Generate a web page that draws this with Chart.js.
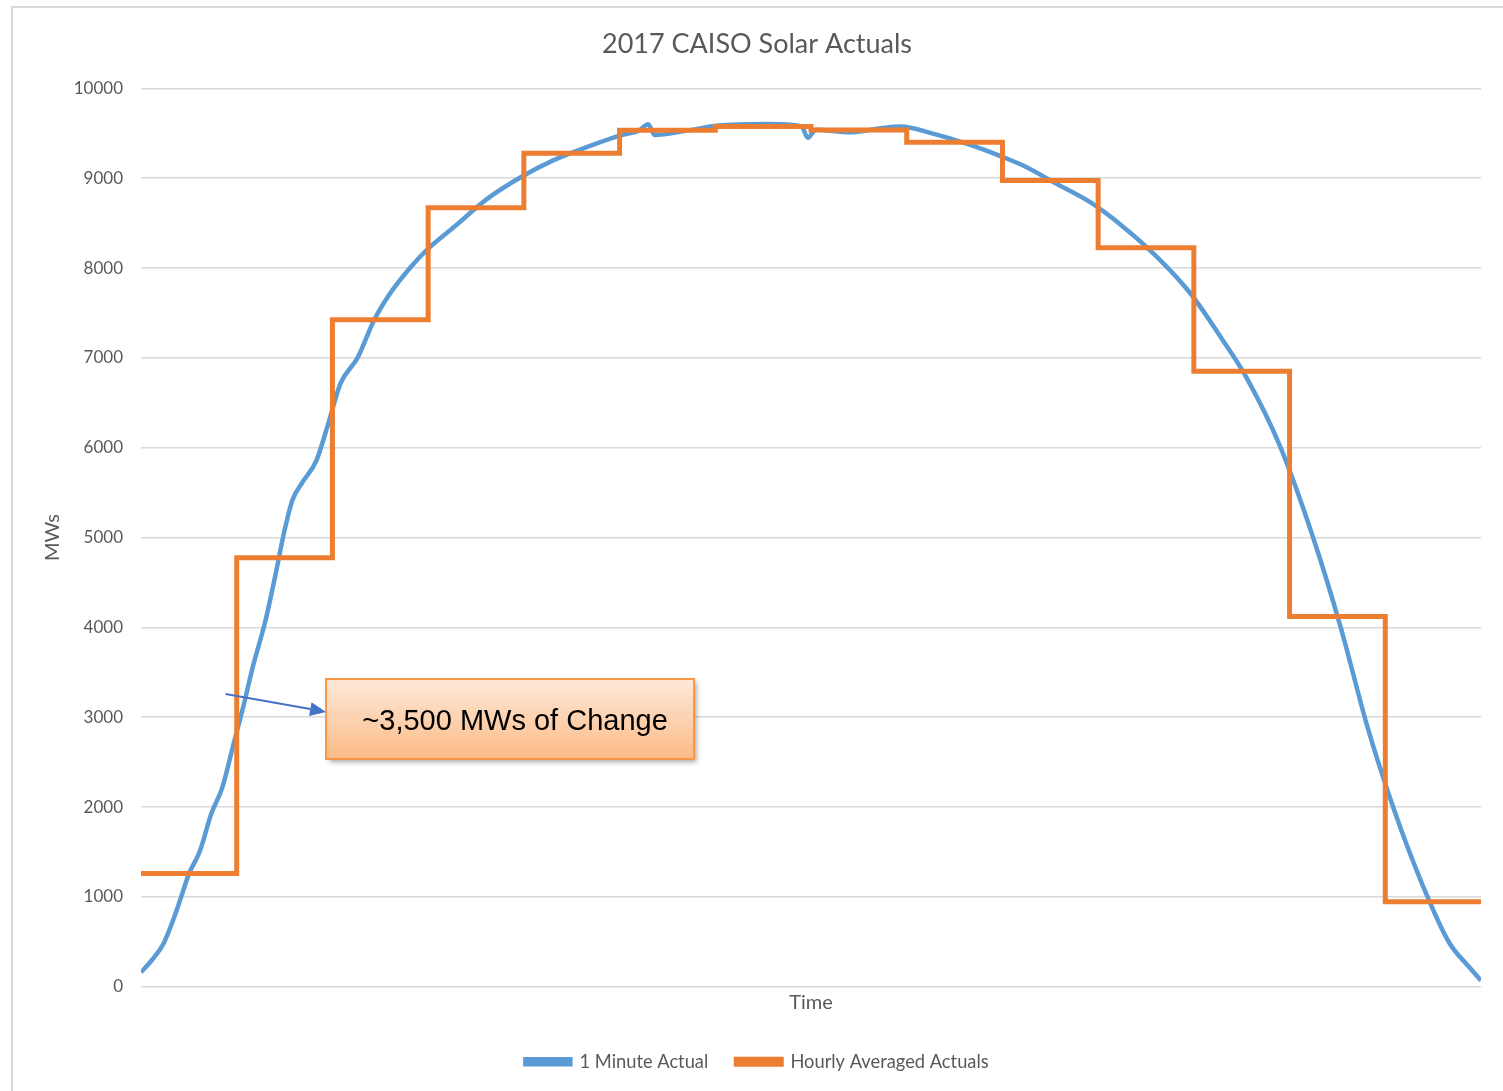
<!DOCTYPE html>
<html>
<head>
<meta charset="utf-8">
<title>2017 CAISO Solar Actuals</title>
<script src="https://cdn.jsdelivr.net/npm/chart.js@4.4.1/dist/chart.umd.min.js"></script>
<style>
  html, body { margin: 0; padding: 0; background: #ffffff; }
  #wrap { position: relative; width: 1503px; height: 1091px; overflow: hidden; }
  #frame {
    position: absolute; left: 11px; top: 6px; right: -10px; bottom: -10px;
    border-left: 2px solid #d9d9d9; border-top: 2px solid #d9d9d9;
    pointer-events: none;
  }
  #chart { position: absolute; left: 0; top: 0; }
</style>
</head>
<body>
<div id="wrap">
  <div id="frame"></div>
  <canvas id="chart" width="1503" height="1091"></canvas>
</div>
<script>
// ---- data ----
// 1 minute actuals, sampled (minute of the 14 hour window, MW)
const minuteMarks = [0, 7, 14, 20, 25, 30, 37, 44, 51, 58, 64, 70, 78, 84, 90, 95, 101, 110, 118, 125, 136,
  146, 156, 169, 181, 196, 217, 238, 258, 279, 300, 312, 318, 322, 342, 362, 392, 414, 418, 423, 444,
  465, 476, 497, 518, 538, 553, 574, 595, 616, 637, 658, 678, 693, 714, 735, 752, 769, 786, 803, 820,
  832, 840];
const oneMinuteMW = [160, 300, 475, 735, 990, 1254, 1514, 1922, 2219, 2701, 3109, 3555, 4074, 4560, 5080, 5420, 5610, 5860, 6305, 6713, 7009,
  7417, 7714, 8010, 8232, 8454, 8770, 9011, 9196, 9344, 9475, 9530, 9600, 9480, 9530, 9586, 9604, 9580, 9450, 9540, 9511,
  9560, 9575, 9493, 9382, 9252, 9141, 8937, 8733, 8455, 8121, 7714, 7200, 6780, 6017, 4987, 4004, 2880, 1944, 1148, 492,
  230, 70];

// hourly averages, one per hour starting at these minutes
const hourStarts = [0, 60, 120, 180, 240, 300, 360, 420, 480, 540, 600, 660, 720, 780];
const hourlyMW = [1260, 4775, 7425, 8670, 9278, 9535, 9575, 9537, 9400, 8974, 8225, 6850, 4120, 945];
const windowEnd = 840;

const yTicks = [0, 1000, 2000, 3000, 4000, 5000, 6000, 7000, 8000, 9000, 10000];
const seriesNames = ["1 Minute Actual", "Hourly Averaged Actuals"];
const calloutText = "~3,500 MWs of Change";

// callout placement in data units (minutes / MW)
const callout = {
  box: { x0: 116, x1: 346.7, yTop: 3425, yBottom: 2535 },
  arrow: { fromX: 53, fromY: 3258, toX: 116, toY: 3059 }
};

const BLUE = "#5b9bd5";
const ORANGE = "#ed7d31";
const GREY_TEXT = "#595959";
const FONT = "Lato, 'Open Sans', sans-serif";

const blueData = minuteMarks.map((m, i) => ({ x: m, y: oneMinuteMW[i] }));
const orangeData = hourStarts.map((m, i) => ({ x: m, y: hourlyMW[i] }));
orangeData.push({ x: windowEnd, y: hourlyMW[hourlyMW.length - 1] });

// draws the text box and the arrow
const calloutPlugin = {
  id: "callout",
  afterDatasetsDraw(chart) {
    const ctx = chart.ctx;
    const xs = chart.scales.x, ys = chart.scales.y;
    const b = callout.box, a = callout.arrow;

    // arrow
    const ax0 = xs.getPixelForValue(a.fromX), ay0 = ys.getPixelForValue(a.fromY);
    const ax1 = xs.getPixelForValue(a.toX), ay1 = ys.getPixelForValue(a.toY);
    const ang = Math.atan2(ay1 - ay0, ax1 - ax0);
    const headLen = 16, headW = 7;
    ctx.save();
    ctx.strokeStyle = "#4472c4";
    ctx.fillStyle = "#4472c4";
    ctx.lineWidth = 2;
    ctx.beginPath();
    ctx.moveTo(ax0, ay0);
    ctx.lineTo(ax1 - Math.cos(ang) * headLen, ay1 - Math.sin(ang) * headLen);
    ctx.stroke();
    ctx.beginPath();
    ctx.moveTo(ax1, ay1);
    ctx.lineTo(ax1 - Math.cos(ang) * headLen - Math.sin(ang) * headW, ay1 - Math.sin(ang) * headLen + Math.cos(ang) * headW);
    ctx.lineTo(ax1 - Math.cos(ang) * headLen + Math.sin(ang) * headW, ay1 - Math.sin(ang) * headLen - Math.cos(ang) * headW);
    ctx.closePath();
    ctx.fill();
    ctx.restore();

    // box
    const left = xs.getPixelForValue(b.x0), right = xs.getPixelForValue(b.x1);
    const top = ys.getPixelForValue(b.yTop), bottom = ys.getPixelForValue(b.yBottom);
    ctx.save();
    const grad = ctx.createLinearGradient(0, top, 0, bottom);
    grad.addColorStop(0, "#fee9da");
    grad.addColorStop(1, "#fbbb86");
    ctx.shadowColor = "rgba(0,0,0,0.35)";
    ctx.shadowBlur = 5;
    ctx.shadowOffsetX = 3;
    ctx.shadowOffsetY = 3;
    ctx.fillStyle = grad;
    ctx.fillRect(left, top, right - left, bottom - top);
    ctx.shadowColor = "transparent";
    ctx.strokeStyle = "#f79646";
    ctx.lineWidth = 2;
    ctx.strokeRect(left, top, right - left, bottom - top);
    ctx.fillStyle = "#000000";
    ctx.font = "29px 'Liberation Sans', Arial, sans-serif";
    ctx.textAlign = "center";
    ctx.textBaseline = "middle";
    // text sits a little right of the box centre in the original
    ctx.fillText(calloutText, (left + right) / 2 + 5, (top + bottom) / 2 + 3);
    ctx.restore();
  }
};

new Chart(document.getElementById("chart"), {
  type: "line",
  data: {
    datasets: [
      {
        label: seriesNames[0],
        data: blueData,
        borderColor: BLUE,
        backgroundColor: BLUE,
        borderWidth: 4.5,
        pointRadius: 0,
        cubicInterpolationMode: "monotone",
        order: 1
      },
      {
        label: seriesNames[1],
        data: orangeData,
        borderColor: ORANGE,
        backgroundColor: ORANGE,
        borderWidth: 5,
        pointRadius: 0,
        stepped: true,
        order: 0
      }
    ]
  },
  options: {
    responsive: false,
    animation: false,
    events: [],
    layout: { padding: { left: 33, right: 22, top: 0, bottom: 10 } },
    font: { family: FONT },
    plugins: {
      title: {
        display: true,
        text: "2017 CAISO Solar Actuals",
        color: GREY_TEXT,
        font: { size: 27, weight: "normal", family: FONT },
        padding: { top: 28, bottom: 28 }
      },
      legend: {
        position: "bottom",
        labels: {
          boxWidth: 45,
          boxHeight: 5,
          padding: 28,
          color: GREY_TEXT,
          font: { size: 18.3, family: FONT },
          sort: (a, b) => a.datasetIndex - b.datasetIndex
        }
      },
      tooltip: { enabled: false }
    },
    scales: {
      x: {
        type: "linear",
        min: 0,
        max: windowEnd,
        grid: { display: false, drawTicks: false },
        border: { display: false },
        ticks: { display: false },
        title: {
          display: true,
          text: "Time",
          color: GREY_TEXT,
          font: { size: 20, family: FONT },
          padding: { top: 4, bottom: 10 }
        }
      },
      y: {
        min: 0,
        max: 10000,
        afterBuildTicks: (s) => { s.ticks = yTicks.map(v => ({ value: v })); },
        afterFit: (s) => { s.width = 108; },
        grid: { color: "#d9d9d9", lineWidth: 1.5, drawTicks: false },
        border: { display: false },
        ticks: {
          padding: 18,
          color: GREY_TEXT,
          font: { size: 17, family: FONT },
          callback: (v) => String(v)
        },
        title: {
          display: true,
          text: "MWs",
          color: GREY_TEXT,
          font: { size: 20, family: FONT },
          padding: { top: 8, bottom: 0 }
        }
      }
    }
  },
  plugins: [calloutPlugin]
});
</script>
</body>
</html>
